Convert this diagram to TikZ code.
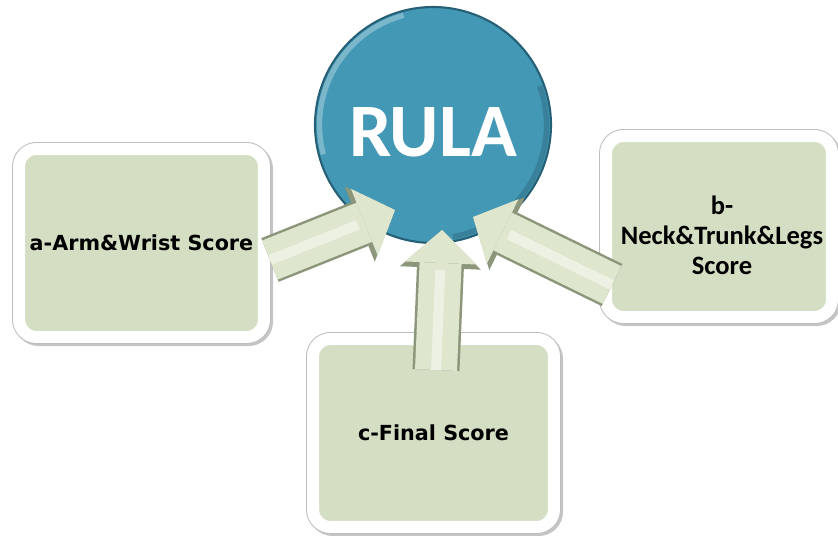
\documentclass[tikz,border=0pt]{standalone}
\usepackage{fontspec}
\setmainfont{Carlito}
\newfontfamily\boxfont{DejaVu Sans}
\usetikzlibrary{arrows.meta, calc, positioning}
\definecolor{rulablue}{RGB}{67, 152, 181}
\definecolor{rulaedge}{RGB}{38, 96, 118}
\definecolor{boxgreen}{RGB}{211, 222, 195}
\definecolor{boxrim}{RGB}{190, 190, 190}
\definecolor{arrowfill}{RGB}{222, 230, 206}
\definecolor{arrowedge}{RGB}{140, 150, 122}

\begin{document}
\begin{tikzpicture}[x=0.02cm, y=0.02cm,
  scorebox/.style={rectangle, rounded corners=0.35cm, fill=boxgreen, draw=white, line width=0.24cm,
    preaction={draw=black!45, opacity=0.5, line width=0.27cm, transform canvas={shift={(1.3pt,-1.3pt)}}},
    preaction={draw=boxrim, line width=0.28cm}, minimum height=3.76cm, align=center},
  fatarrow/.style={arrowfill, line width=0.84cm, -{Triangle[length=0.66cm, width=1.44cm, line width=0pt]},
    preaction={draw=arrowedge, line width=0.94cm, -{Triangle[length=0.76cm, width=1.62cm, line width=0pt]}},
    postaction={draw=white, opacity=0.45, line width=0.2cm, -, shorten >=0.8cm}}
]
  \useasboundingbox (0,0) rectangle (838,535);

  % Centre
  \node[circle, fill=rulablue, draw=rulaedge, line width=1.2pt, minimum size=4.72cm,
    path picture={\draw[white, opacity=0.3, line width=3pt] (path picture bounding box.center)
      ++(105:2.27cm) arc[start angle=105, end angle=195, radius=2.27cm];
      \draw[black, opacity=0.15, line width=3pt] (path picture bounding box.center)
      ++(-80:2.27cm) arc[start angle=-80, end angle=20, radius=2.27cm];}] (rula) at (433,410) {};
  \node[text=white, font=\fontsize{43}{43}\selectfont\bfseries] (rulatext) at ($(rula.center)+(0,-7)$) {RULA};

  % Score boxes
  \node[scorebox, minimum width=4.9cm, font=\boxfont\fontsize{11.8}{14}\selectfont\bfseries] (arm) at (141.5,292) {a-Arm\&Wrist Score};
  \node[scorebox, minimum width=4.52cm, minimum height=3.62cm,
    label={[font=\fontsize{15.1}{17.1}\selectfont\bfseries, align=center, xshift=0.06cm, yshift=-0.18cm]center:b-\\Neck\&Trunk\&Legs\\Score}] (neck) at (719,308.5) {};
  \node[scorebox, minimum width=4.82cm, font=\boxfont\fontsize{11.8}{14}\selectfont\bfseries] (final) at (433.5,102) {c-Final Score};

  % Arrows into RULA
  \coordinate (tipa) at ($(rula.center)+(-38,-85)$);
  \coordinate (tipc) at ($(rula.center)+(9,-105)$);
  \coordinate (tipb) at ($(rula.center)+(40,-92)$);
  \draw[fatarrow] ($(arm.east)+(0,-17)$) -- (tipa);
  \draw[fatarrow] ($(final.north)+(2.5,-37)$) -- (tipc);
  \draw[fatarrow] ($(neck.west)+(12,-58.5)$) -- (tipb);
\end{tikzpicture}
\end{document}
